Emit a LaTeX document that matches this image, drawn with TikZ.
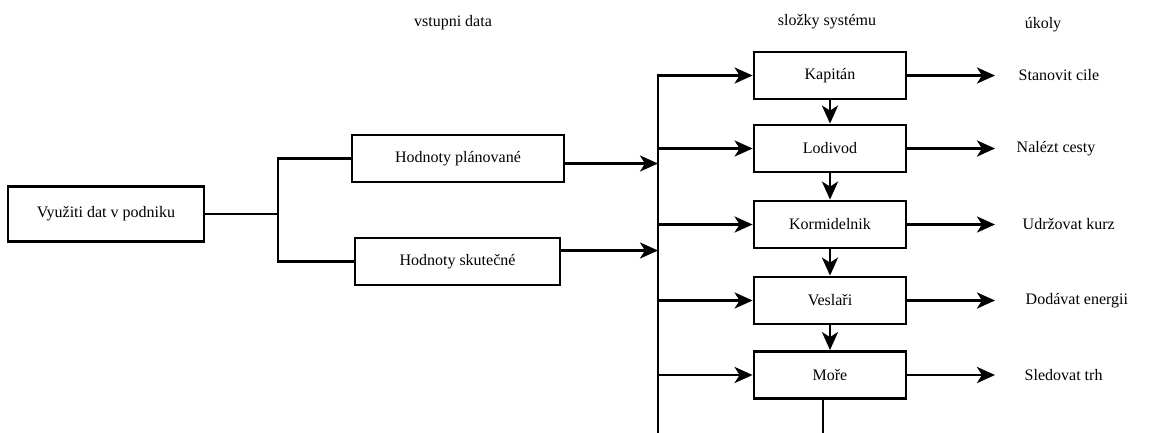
\documentclass[tikz,border=0pt]{standalone}
\usepackage{fontspec}
\setmainfont{Liberation Serif}
\usetikzlibrary{arrows.meta}

\begin{document}
\begin{tikzpicture}[x=1pt, y=-1pt, line width=2.8pt,
    blok/.style={draw, line width=2.8pt, minimum height=47pt, inner sep=0pt, font=\fontsize{16}{18}\selectfont},
    sipka/.style={-{Stealth[length=18pt, width=16pt, inset=5pt]}},
    popis/.style={font=\fontsize{16}{18}\selectfont}]
    \useasboundingbox (0,0) rectangle (1154,432);

    % ==================== ZÁHLAVÍ ====================
    \node[popis] (h1) at (453,23) {vstupni data};
    \node[popis] (h2) at (827,22) {složky systému};
    \node[popis] (h3) at (1043,25) {úkoly};

    % ==================== LEVÁ ČÁST ====================
    \node[blok, minimum width=196pt, minimum height=55pt] (vyuziti) at (106,214) {Využiti dat v podniku};
    \node[blok, minimum width=212pt] (hplan) at (458,158.5) {Hodnoty plánované};
    \node[blok, minimum width=205pt] (hskut) at (457.5,261.5) {Hodnoty skutečné};

    % Rozvětvení
    \coordinate (split) at (278,214);
    \draw (vyuziti.east) -- (split);
    \draw (hplan.west) -| (split) |- (hskut.west);

    % ==================== SBĚRNICE ====================
    \coordinate (busbot) at (658,436);
    \draw[sipka] ([yshift=-5pt]hplan.east) -- ([yshift=-5pt]hplan.east -| busbot);
    \draw[sipka] ([yshift=11pt]hskut.east) -- ([yshift=11pt]hskut.east -| busbot);

    % ==================== SLOŽKY SYSTÉMU ====================
    \node[blok, minimum width=152pt] (kapitan) at (830,75.5) {Kapitán};
    \node[blok, minimum width=152pt] (lodivod) at (830,148.5) {Lodivod};
    \node[blok, minimum width=152pt] (kormid) at (830,224.5) {Kormidelnik};
    \node[blok, minimum width=152pt] (veslari) at (830,300.5) {Veslaři};
    \node[blok, minimum width=152pt] (more) at (830,375) {Moře};

    % Šipky ze sběrnice
    \draw[sipka] (busbot) |- (kapitan.west);
    \foreach \b in {lodivod, kormid, veslari, more}
        \draw[sipka] (\b.west -| busbot) -- (\b.west);

    % Šipky mezi bloky
    \draw[sipka] (kapitan.south) -- (lodivod.north);
    \draw[sipka] (lodivod.south) -- (kormid.north);
    \draw[sipka] (kormid.south) -- (veslari.north);
    \draw[sipka] (veslari.south) -- (more.north);

    % Zpětná vazba z Moře dolů
    \coordinate (morebot) at (823,436);
    \draw ([xshift=-7pt]more.south) -- (morebot);

    % ==================== ÚKOLY ====================
    \coordinate (tip) at (995,0);
    \node[popis, anchor=west] (u1) at (1014,75.5) {Stanovit cile};
    \node[popis, anchor=west] (u2) at (1012,148.5) {Nalézt cesty};
    \node[popis, anchor=west] (u3) at (1018,224.5) {Udržovat kurz};
    \node[popis, anchor=west] (u4) at (1021,300.5) {Dodávat energii};
    \node[popis, anchor=west] (u5) at (1020,375) {Sledovat trh};
    \foreach \b in {kapitan, lodivod, kormid, veslari, more}
        \draw[sipka] (\b.east) -- (\b.east -| tip);
\end{tikzpicture}
\end{document}
